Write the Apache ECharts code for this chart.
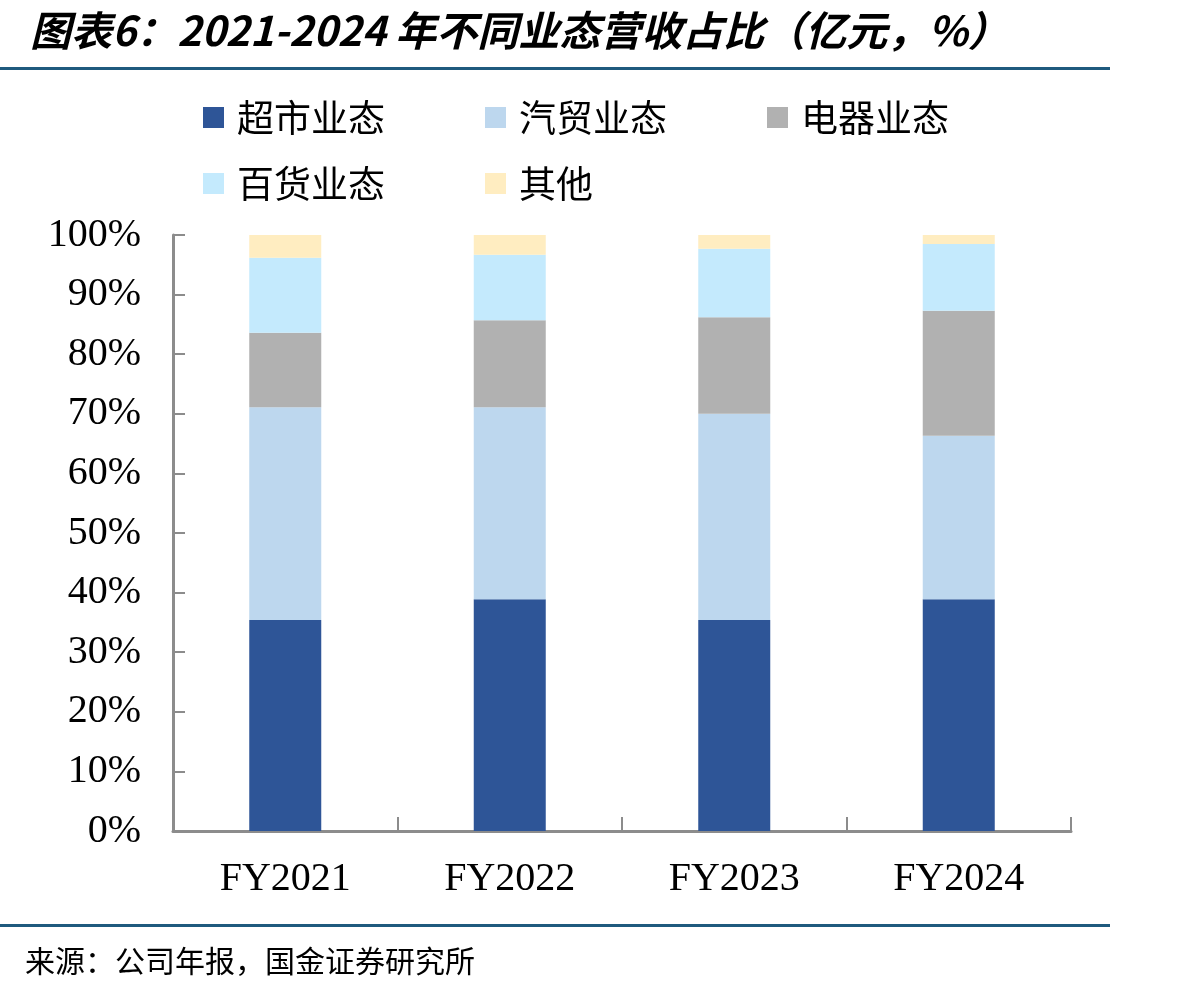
<!DOCTYPE html>
<html>
<head>
<meta charset="utf-8">
<script src="https://cdn.jsdelivr.net/npm/echarts@6/dist/echarts.min.js"></script>
<style>
html,body{margin:0;padding:0;background:#fff;}
#main{width:1198px;height:994px;}
</style>
</head>
<body>
<div id="main"></div>
<script>
var categories = ['FY2021', 'FY2022', 'FY2023', 'FY2024'];
var seriesNames = ['超市业态', '汽贸业态', '电器业态', '百货业态', '其他'];
var supermarket = [35.4, 38.9, 35.4, 38.9];
var autoTrade = [35.7, 32.2, 34.6, 27.4];
var appliance = [12.5, 14.6, 16.2, 21.0];
var department = [12.6, 11.0, 11.5, 11.2];
var others = [3.8, 3.3, 2.3, 1.5];
var colors = ['#2E5597', '#BDD7EE', '#B1B1B1', '#C4EAFD', '#FFEDC1'];

var dom = document.getElementById('main');
var myChart = echarts.init(dom);
var serif = '"Liberation Serif", "Times New Roman", serif';
var cjk = '"Noto Sans CJK SC", sans-serif';
var axisGray = '#8C8C8C';

var allData = [supermarket, autoTrade, appliance, department, others];
var series = [];
for (var i = 0; i < seriesNames.length; i++) {
    series.push({
        name: seriesNames[i],
        type: 'bar',
        stack: 'total',
        barWidth: 72,
        itemStyle: { color: colors[i] },
        data: allData[i]
    });
}

var legendText = { fontFamily: cjk, fontSize: 37, color: '#000', padding: [0, 0, 0, 8] };

option = {
    animation: false,
    backgroundColor: '#fff',
    title: {
        text: '图表6：2021-2024 年不同业态营收占比（亿元，%）',
        left: 25,
        top: 5,
        textStyle: {
            fontFamily: cjk,
            fontSize: 41,
            fontWeight: 'bold',
            fontStyle: 'italic',
            color: '#000'
        }
    },
    legend: [{
        data: seriesNames.slice(0, 3),
        left: 198,
        top: 94,
        itemWidth: 21,
        itemHeight: 21,
        itemGap: 100,
        icon: 'rect',
        textStyle: legendText
    }, {
        data: seriesNames.slice(3),
        left: 198,
        top: 160,
        itemWidth: 21,
        itemHeight: 21,
        itemGap: 100,
        icon: 'rect',
        textStyle: legendText
    }],
    grid: {
        left: 173,
        right: 127,
        top: 235,
        bottom: 163
    },
    xAxis: {
        type: 'category',
        data: categories,
        axisLine: { show: true, lineStyle: { color: axisGray, width: 3 } },
        axisTick: { show: true, inside: true, alignWithLabel: false, interval: 0, length: 14, lineStyle: { color: axisGray, width: 2 } },
        axisLabel: { fontFamily: serif, fontSize: 40, color: '#000', margin: 28 }
    },
    yAxis: {
        type: 'value',
        min: 0,
        max: 100,
        interval: 10,
        axisLine: { show: true, lineStyle: { color: axisGray, width: 3 } },
        axisTick: { show: true, inside: true, length: 12, lineStyle: { color: axisGray, width: 2 } },
        splitLine: { show: false },
        axisLabel: {
            formatter: '{value}%',
            fontFamily: serif,
            fontSize: 40,
            color: '#000',
            margin: 32
        }
    },
    graphic: [{
        type: 'rect',
        shape: { x: 0, y: 67, width: 1110, height: 3 },
        style: { fill: '#1F5A7E' }
    }, {
        type: 'rect',
        shape: { x: 0, y: 924, width: 1110, height: 3 },
        style: { fill: '#1F5A7E' }
    }, {
        type: 'text',
        left: 25,
        top: 946,
        style: {
            text: '来源：公司年报，国金证券研究所',
            font: '30px "Noto Sans CJK SC", sans-serif',
            fill: '#000'
        }
    }],
    series: series
};

if (option && typeof option === "object") {
    myChart.setOption(option, true);
}
</script>
</body>
</html>
